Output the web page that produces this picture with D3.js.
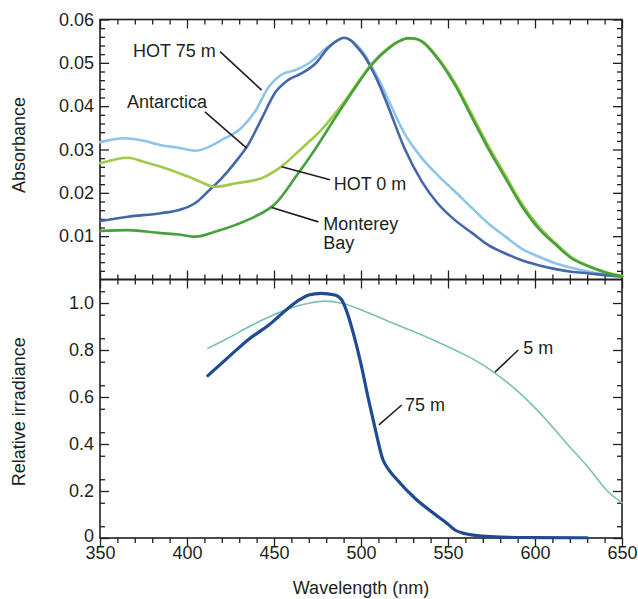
<!DOCTYPE html>
<html><head><meta charset="utf-8">
<script src="https://cdn.jsdelivr.net/npm/d3@7"></script>
<style>
html,body{margin:0;padding:0;background:#fff;}
svg text{font-family:"Liberation Sans",Arial,Helvetica,sans-serif;fill:#231f20;}
</style></head>
<body><svg id="c" width="638" height="599"></svg>
<script>
// ---------- DATA ----------
// Top panel: absorbance spectra
const wlHot75 = [350,364,375,385,395,405,412,420,431,439,447,454,462,470,481,487,491,494,497,502,506,511,516,525,535,544,554,564,573,583,592,602,612,621,631,640,650];
const absHot75 = [0.0317,0.0326,0.0320,0.0310,0.0304,0.0297,0.0305,0.0322,0.0349,0.0387,0.0445,0.0472,0.0483,0.0499,0.0537,0.0553,0.0558,0.0553,0.0543,0.0520,0.0492,0.0455,0.0412,0.0337,0.0280,0.0241,0.0203,0.0164,0.0130,0.0099,0.0072,0.0053,0.0037,0.0027,0.0018,0.0012,0.0008];

const wlAntarctica = [350,366,385,395,401,406,412,420,428,435,443,451,458,466,474,481,487,490,494,497,502,506,511,516,525,535,544,554,564,573,583,592,602,612,621,631,640,650];
const absAntarctica = [0.0135,0.0145,0.0153,0.0160,0.0168,0.0180,0.0203,0.0234,0.0272,0.0310,0.0372,0.0433,0.0460,0.0476,0.0499,0.0534,0.0553,0.0558,0.0552,0.0540,0.0515,0.0487,0.0445,0.0395,0.0303,0.0226,0.0176,0.0137,0.0107,0.0080,0.0060,0.0045,0.0033,0.0024,0.0018,0.0014,0.0010,0.0007];

const wlHot0 = [350,366,375,385,395,401,408,416,428,443,454,466,478,489,500,506,516,522,527,531,535,544,554,564,573,583,592,602,612,621,631,640,650];
const absHot0 = [0.0268,0.0281,0.0272,0.0260,0.0246,0.0237,0.0225,0.0214,0.0222,0.0234,0.0260,0.0303,0.0349,0.0403,0.0465,0.0497,0.0535,0.0550,0.0556,0.0555,0.0550,0.0513,0.0454,0.0379,0.0310,0.0240,0.0178,0.0123,0.0083,0.0051,0.0031,0.0018,0.0008];

const wlMonterey = [350,366,385,395,405,416,428,439,451,462,474,485,497,506,516,522,527,531,535,544,554,564,573,583,592,602,612,621,631,640,650];
const absMonterey = [0.0112,0.0114,0.0107,0.0104,0.0099,0.0110,0.0126,0.0145,0.0176,0.0234,0.0303,0.0372,0.0445,0.0495,0.0534,0.0550,0.0557,0.0556,0.0549,0.0510,0.0449,0.0372,0.0303,0.0234,0.0172,0.0118,0.0080,0.0049,0.0030,0.0017,0.0007];

// Bottom panel: relative irradiance
const wl75m = [412,424,435,447,458,465,470,477,485,489,492,496,500,504,508,512.5,516,520,531,543,549,554,560,570,580,600,630];
const irr75m = [0.691,0.771,0.843,0.906,0.977,1.015,1.034,1.041,1.034,1.012,0.96,0.86,0.74,0.60,0.47,0.335,0.29,0.254,0.169,0.098,0.065,0.034,0.018,0.008,0.004,0.002,0.001];

const wl5m = [412,424,435,447,458,470,479,489,497,516,535,554,566,577,590,604,619,631,642,650];
const irr5m = [0.807,0.852,0.897,0.940,0.975,0.999,1.008,0.999,0.98,0.921,0.864,0.80,0.755,0.702,0.625,0.523,0.396,0.297,0.197,0.15];

// Axis ticks
const xMajorTicks = [350,400,450,500,550,600,650];
const absMajorTicks = [0.01,0.02,0.03,0.04,0.05,0.06];
const irrMajorTicks = [0,0.2,0.4,0.6,0.8,1.0];

// Annotation labels (data coordinates)
const topLabels = [
  {text:["HOT 75 m"], tx:369, ty:0.0514, l:[419,0.0526,442.9,0.0437]},
  {text:["Antarctica"], tx:365.5, ty:0.0396, l:[410.3,0.0387,434.3,0.0303]},
  {text:["HOT 0 m"], tx:484.3, ty:0.0207, l:[454.4,0.0260,482.2,0.0230]},
  {text:["Monterey","Bay"], tx:478.3, ty:0.0114, l:[448.7,0.0166,475.5,0.0133]}
];
const bottomLabels = [
  {text:["5 m"], tx:593.3, ty:0.781, l:[577,0.706,590.4,0.80]},
  {text:["75 m"], tx:525.3, ty:0.54, l:[510.3,0.481,523.4,0.566]}
];

// ---------- CHART ----------
const svg = d3.select("#c");
const L = 100, R = 622, T = 19.5, M = 279.5, B = 538;
const FS = 18;

const x = d3.scaleLinear().domain([350,650]).range([L,R]);
const yTop = d3.scaleLinear().domain([0,0.06]).range([M,T]);
const yBot = d3.scaleLinear().domain([0,1.1]).range([B,M]);

const xMinor = d3.range(350,651,10).filter(d=>d%50!==0);
const absMinor = d3.range(0,0.0601,0.002).filter(d=>Math.abs(d*100-Math.round(d*100))>1e-6);
const irrMinor = d3.range(0.05,1.1,0.1);

function ax(gen, tx, ty, vals, size, fmt, pad){
  const g = svg.append("g").attr("transform",`translate(${tx},${ty})`)
    .call(gen.tickValues(vals).tickSize(-size).tickPadding(pad||6).tickFormat(fmt||(()=> "")));
  g.select(".domain").remove();
  g.selectAll(".tick line").attr("stroke","#231f20").attr("stroke-width",1.3);
  g.selectAll("text").style("font-size",FS+"px").attr("fill","#231f20");
  return g;
}
const MAJ = 9, MIN = 5;
// Top panel axes
ax(d3.axisLeft(yTop), L,0, absMajorTicks, MAJ, d3.format(".2f"), 6);
ax(d3.axisLeft(yTop), L,0, absMinor, MIN);
ax(d3.axisRight(yTop), R,0, absMajorTicks, MAJ);
ax(d3.axisRight(yTop), R,0, absMinor, MIN);
ax(d3.axisTop(x), 0,T, xMajorTicks, MAJ);
ax(d3.axisTop(x), 0,T, xMinor, MIN);
ax(d3.axisBottom(x), 0,M, xMajorTicks, MAJ);
ax(d3.axisBottom(x), 0,M, xMinor, MIN);
// Bottom panel axes
const yl = ax(d3.axisLeft(yBot), L,0, irrMajorTicks, MAJ, d=> d===0?"0":d3.format(".1f")(d), 6);
yl.selectAll(".tick text").filter(d=>d===0).attr("dy","0.2em");
ax(d3.axisLeft(yBot), L,0, irrMinor, MIN);
ax(d3.axisRight(yBot), R,0, irrMajorTicks, MAJ);
ax(d3.axisRight(yBot), R,0, irrMinor, MIN);
ax(d3.axisTop(x), 0,M, xMajorTicks, MAJ);
ax(d3.axisTop(x), 0,M, xMinor, MIN);
ax(d3.axisTop(x), 0,B, xMajorTicks, MAJ);
ax(d3.axisTop(x), 0,B, xMinor, MIN);
const xb = ax(d3.axisBottom(x), 0,B, xMajorTicks, 0, d3.format("d"), 8);
xb.selectAll(".tick line").remove();

// Frames
svg.append("rect").attr("x",L).attr("y",T).attr("width",R-L).attr("height",M-T)
  .attr("fill","none").attr("stroke","#231f20").attr("stroke-width",1.6);
svg.append("rect").attr("x",L).attr("y",M).attr("width",R-L).attr("height",B-M)
  .attr("fill","none").attr("stroke","#231f20").attr("stroke-width",1.6);

// Lines
function drawLine(wl, vals, yS, color, w){
  const data = wl.map((d,i)=>[d, vals[i]]);
  svg.append("path").datum(data)
    .attr("fill","none").attr("stroke",color).attr("stroke-width",w)
    .attr("stroke-linejoin","round").attr("stroke-linecap","round")
    .attr("d", d3.line().x(d=>x(d[0])).y(d=>yS(d[1])).curve(d3.curveMonotoneX));
}
drawLine(wlHot75, absHot75, yTop, "#8ec4ea", 2.6);
drawLine(wlAntarctica, absAntarctica, yTop, "#4567aa", 2.6);
drawLine(wlHot0, absHot0, yTop, "#9fca4a", 2.6);
drawLine(wlMonterey, absMonterey, yTop, "#46a03c", 2.6);

drawLine(wl5m, irr5m, yBot, "#79c0b2", 1.6);
drawLine(wl75m, irr75m, yBot, "#1e4b94", 3.2);

// Annotations
function annotate(list, yS){
  list.forEach(a=>{
    svg.append("line").attr("x1",x(a.l[0])).attr("y1",yS(a.l[1]))
      .attr("x2",x(a.l[2])).attr("y2",yS(a.l[3]))
      .attr("stroke","#231f20").attr("stroke-width",1.6);
    const t = svg.append("text").attr("x",x(a.tx)).attr("y",yS(a.ty)).style("font-size",FS+"px");
    a.text.forEach((s,i)=> t.append("tspan").attr("x",x(a.tx)).attr("dy", i===0?0:18.5).text(s));
  });
}
annotate(topLabels, yTop);
annotate(bottomLabels, yBot);

// Axis titles
svg.append("text").attr("transform",`translate(25,145) rotate(-90)`)
  .attr("text-anchor","middle").style("font-size",FS+"px").text("Absorbance");
svg.append("text").attr("transform",`translate(25,${(M+B)/2+3}) rotate(-90)`)
  .attr("text-anchor","middle").style("font-size",FS+"px").text("Relative irradiance");
svg.append("text").attr("x",(L+R)/2).attr("y",594).attr("text-anchor","middle")
  .style("font-size",FS+"px").text("Wavelength (nm)");
</script></body></html>
